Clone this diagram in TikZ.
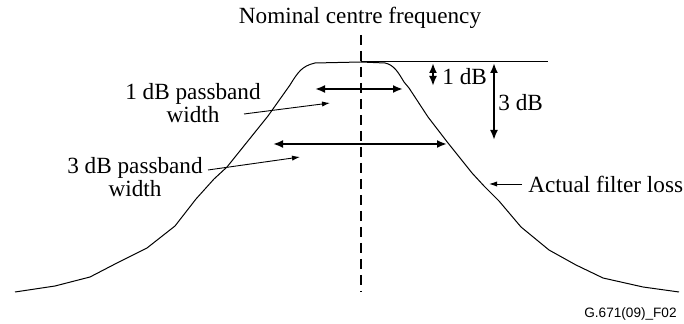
\documentclass[tikz,border=0pt]{standalone}
\usepackage{fontspec}
\setmainfont{Liberation Serif}
\newfontfamily\labelsans{Liberation Sans}
\usetikzlibrary{arrows.meta}
\tikzset{
  txt/.style={inner sep=0pt, font=\fontsize{11.6}{11.6}\selectfont},
  curveline/.style={line width=0.5pt, line join=round},
  thickarrow/.style={line width=1pt, {Latex[length=5pt,width=4pt]}-{Latex[length=5pt,width=4pt]}},
  pointer/.style={line width=0.45pt, -{Latex[length=4pt,width=2.6pt]}},
  centreline/.style={line width=0.6pt, dash pattern=on 5pt off 3pt},
}
\begin{document}
\begin{tikzpicture}[x=0.5pt,y=-0.5pt]
\useasboundingbox (0,0) rectangle (684,324);
% texts
\node[txt, anchor=base] (nominal) at (360,23.5) {Nominal centre frequency};
\node[txt, align=center] (lab1) at (193,103) {1 dB passband\\width};
\node[txt, align=center] (lab3) at (135,177) {3 dB passband\\width};
\node[txt, anchor=west] (actual) at (528,184) {Actual filter loss};
\node[txt, anchor=west] (onedb) at (442,77) {1 dB};
\node[txt, anchor=west] (threedb) at (498,103) {3 dB};
\node[inner sep=0pt, anchor=base east, font=\labelsans\fontsize{6.8}{8}\selectfont] (fig) at (677,318) {G.671(09)\_F02};
% centre line and top reference
\coordinate (ctop) at (361,35);
\coordinate (cbot) at (361,292);
\draw[centreline] (ctop) -- (cbot);
\coordinate (refL) at (361,62);
\coordinate (refR) at (548,62);
\draw[line width=0.5pt] (refL) -- (refR);
% filter curve
\draw[curveline] (15,292) -- (55,286) -- (90,277) -- (117,263) -- (147,248) -- (175,226)
  -- (196,199) -- (214,179) -- (227,167) -- (268,116) -- (290,85)
  .. controls (298,72) and (302,66) .. (315,63) -- (361,62) -- (385,63)
  .. controls (394,65) and (398,72) .. (404,82) -- (409,88) -- (428,117) -- (448,143)
  -- (472,173) -- (484,186) -- (499,201) -- (521,227) -- (549,250) -- (576,265)
  -- (603,278) -- (643,287) -- (679,292);
% passband arrows
\coordinate (p1L) at (315,89);
\coordinate (p1R) at (403,89);
\draw[thickarrow] (p1L) -- (p1R);
\coordinate (p3L) at (273,144);
\coordinate (p3R) at (447,144);
\draw[thickarrow] (p3L) -- (p3R);
% dB arrows
\coordinate (d1T) at (433,63);
\coordinate (d1B) at (433,86);
\draw[thickarrow] (d1T) -- (d1B);
\coordinate (d3T) at (494,63);
\coordinate (d3B) at (494,140);
\draw[thickarrow] (d3T) -- (d3B);
% pointers
\coordinate (q1s) at (244,114);
\coordinate (q1e) at (330,103);
\draw[pointer] (q1s) -- (q1e);
\coordinate (q3s) at (208,170);
\coordinate (q3e) at (300,157);
\draw[pointer] (q3s) -- (q3e);
\coordinate (qas) at (522,184);
\coordinate (qae) at (489,184);
\draw[pointer] (qas) -- (qae);
\end{tikzpicture}
\end{document}
